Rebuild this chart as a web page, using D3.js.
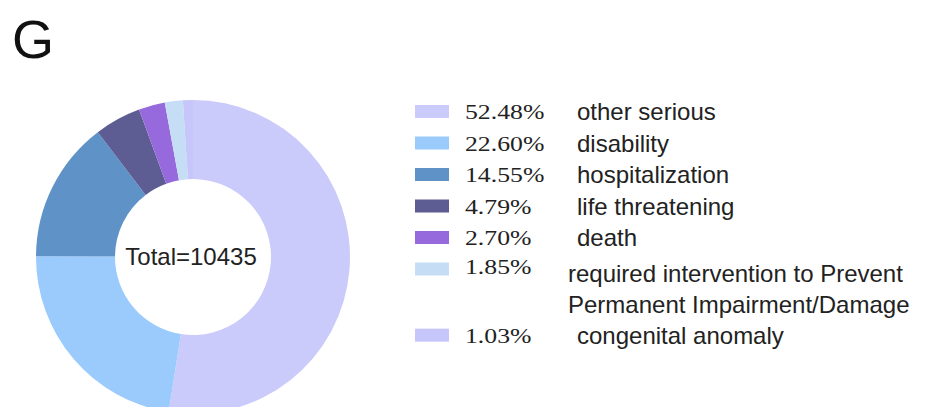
<!DOCTYPE html>
<html lang="en"><head><meta charset="utf-8">
<title>Serious outcomes</title>
<script src="https://cdn.jsdelivr.net/npm/d3@7/dist/d3.min.js"></script>
<style>
  body { margin: 0; background: #fff; }
</style>
</head>
<body>
<script>
    // data
    var categories = ["other serious", "disability", "hospitalization", "life threatening",
        "death", "required intervention to Prevent\nPermanent Impairment/Damage", "congenital anomaly"];
    var shares = [52.48, 22.60, 14.55, 4.79, 2.70, 1.85, 1.03];
    var colors = ["#cbcbfb", "#9acbfc", "#5f93c8", "#5d5d93", "#9669dc", "#c6ddf6", "#c6c6fa"];
    var total = 10435;
    var panel = "G";

    var width = 939, height = 407;
    var cx = 193, cy = 257, outerR = 157, innerR = 78;

    var svg = d3.select("body").append("svg")
        .attr("width", width)
        .attr("height", height);

    svg.append("text")
        .attr("x", 12)
        .attr("y", 58)
        .attr("font-family", "Liberation Sans, Arial, sans-serif")
        .attr("font-size", 54)
        .attr("fill", "#111")
        .text(panel);

    var pie = d3.pie().sort(null).value(function (d) { return d; });
    var arc = d3.arc().innerRadius(innerR).outerRadius(outerR);

    var donut = svg.append("g").attr("transform", "translate(" + cx + "," + cy + ")");
    donut.selectAll("path")
        .data(pie(shares))
        .enter().append("path")
        .attr("d", arc)
        .attr("fill", function (d, i) { return colors[i]; });

    donut.append("text")
        .attr("text-anchor", "middle")
        .attr("x", -2)
        .attr("y", 8)
        .attr("font-family", "Liberation Sans, Arial, sans-serif")
        .attr("font-size", 24)
        .attr("fill", "#222")
        .text("Total=" + total);

    // legend rows (the wrapped label takes two lines)
    var rowY = d3.scaleLinear().domain([0, 1]).range([111.5, 143]);
    var rows = [];
    var slot = 0;
    categories.forEach(function (c, i) {
        rows.push({ name: c, share: shares[i], color: colors[i], slot: slot });
        slot += c.split("\n").length;
    });
    rows[rows.length - 1].slot += 0.1;

    var legend = svg.selectAll(".legend")
        .data(rows)
        .enter().append("g")
        .attr("class", "legend")
        .attr("transform", function (d) { return "translate(0," + rowY(d.slot) + ")"; });

    legend.append("rect")
        .attr("x", 415)
        .attr("y", -6.5)
        .attr("width", 34)
        .attr("height", 13)
        .attr("fill", function (d) { return d.color; });

    legend.append("text")
        .attr("transform", function (d) {
            var dy = d.name.indexOf("\n") >= 0 ? -3 : 0;
            return "translate(465," + (7.5 + dy) + ") scale(1.17,1)";
        })
        .attr("font-family", "Liberation Serif, Times New Roman, serif")
        .attr("font-size", 22)
        .attr("fill", "#222")
        .text(function (d) { return d.share.toFixed(2) + "%"; });

    legend.each(function (d) {
        var lines = d.name.split("\n");
        var multi = lines.length > 1;
        var t = d3.select(this).append("text")
            .attr("font-family", "Liberation Sans, Arial, sans-serif")
            .attr("font-size", 24)
            .attr("fill", "#222");
        lines.forEach(function (line, k) {
            t.append("tspan")
                .attr("x", multi ? 568 : 577)
                .attr("y", (multi ? 13 : 8.5) + k * 31)
                .text(line);
        });
    });
</script>
</body></html>
